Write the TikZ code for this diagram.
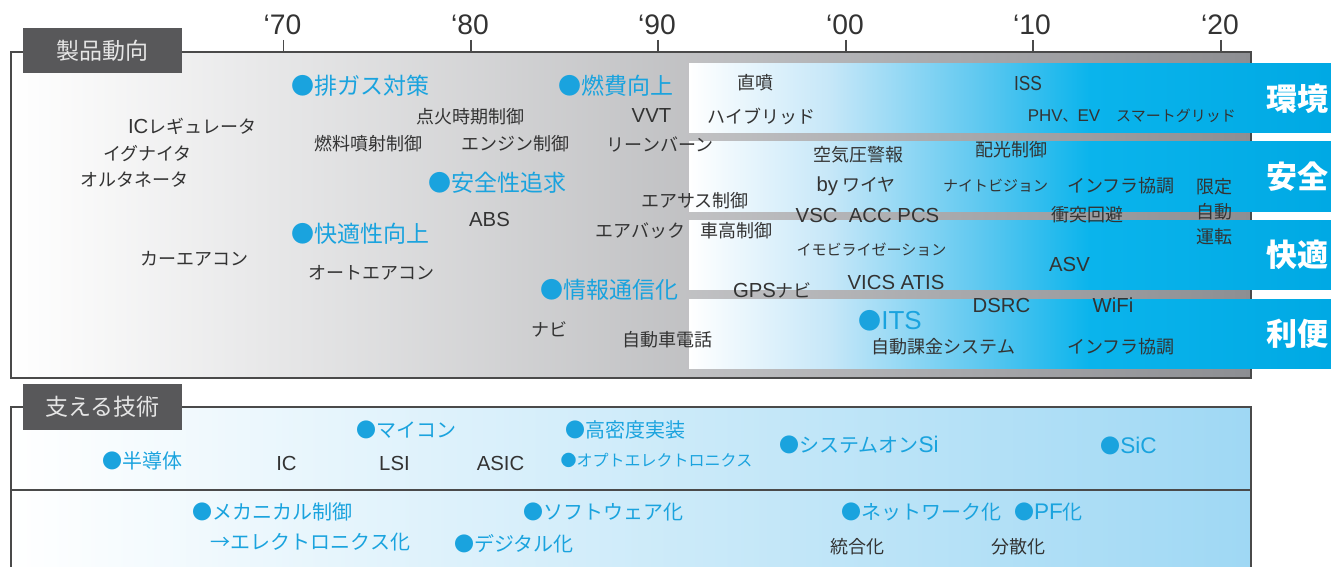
\documentclass[tikz,border=0pt]{standalone}
\usepackage{fontspec}
\setmainfont{Noto Sans CJK JP}
\newfontfamily\lat[Scale=1.13]{Liberation Sans}
\definecolor{txt}{HTML}{333333}
\definecolor{bl}{HTML}{1AA3DE}
\definecolor{tabc}{HTML}{58585A}
\definecolor{frame}{HTML}{4A4A4A}
\definecolor{gr}{HTML}{8D8E92}
\definecolor{b1}{HTML}{C6E7F8}
\definecolor{b2}{HTML}{5EC8F0}
\definecolor{b3}{HTML}{0AB4EC}
\definecolor{b4}{HTML}{00A9E4}
\definecolor{lb}{HTML}{9FD8F4}
\begin{document}
\begin{tikzpicture}[x=1pt,y=-1pt,
  blk/.style={inner sep=0pt,text=txt,font=\fontsize{18}{18}\selectfont},
  blkL/.style={inner sep=0pt,text=txt,font=\fontsize{18}{18}\selectfont\lat},
  sml/.style={inner sep=0pt,text=txt,font=\fontsize{15}{15}\selectfont},
  hd/.style={inner sep=0pt,text=bl,font=\fontsize{23}{23}\selectfont},
  sub/.style={inner sep=0pt,text=bl,font=\fontsize{20}{20}\selectfont},
  cat/.style={inner sep=0pt,text=white,font=\bfseries\fontsize{31}{31}\selectfont},
  yr/.style={inner sep=0pt,text=txt,font=\fontsize{25}{25}\selectfont\lat},
  tabbox/.style={fill=tabc,inner sep=0pt,text=white!90!black,font=\fontsize{23}{23}\selectfont},
  frm/.style={draw=frame,line width=1.3pt}]
\useasboundingbox (0,0) rectangle (1331,567);
% ---------- top panel ----------
\fill[left color=white,right color=gr] (11,52) rectangle (1251,378);
\draw[frm] (11,52) rectangle (1251,378);
% ticks and years
\foreach \xx/\lab [count=\i] in {283.5/‘70,471/‘80,658/‘90,846/‘00,1033/‘10,1221/‘20}{
  \draw[frame,line width=1.2pt] (\xx,40) -- (\xx,52);
  \node[yr] (yr\i) at (\xx-1,25) {\lab};
}
% bands
\foreach \ya/\yb in {64/133,142/211,220/289,299/368}{
  \fill[left color=white,right color=b1] (689,\ya) rectangle (830.5,\yb);
  \fill[left color=b1,right color=b2] (830,\ya) rectangle (980.5,\yb);
  \fill[left color=b2,right color=b3] (980,\ya) rectangle (1090.5,\yb);
  \fill[left color=b3,right color=b4] (1090,\ya) rectangle (1331,\yb);
}
% tab
\node[tabbox,minimum width=159pt,minimum height=45pt] (tab1) at (102.5,50.5) {製品動向};
% categories
\node[cat] (c1) at (1297,98.5) {環境};
\node[cat] (c2) at (1297,176.5) {安全};
\node[cat] (c3) at (1297,254.5) {快適};
\node[cat] (c4) at (1297,333.5) {利便};
% blue headings
\node[hd] (h1) at (360,86) {●排ガス対策};
\node[hd] (h2) at (615.5,86) {●燃費向上};
\node[hd] (h3) at (497,183) {●安全性追求};
\node[hd] (h4) at (360,234) {●快適性向上};
\node[hd] (h5) at (609.5,290) {●情報通信化};
\node[hd] (h6) at (890,321) {●{\lat ITS}};
% black items
\node[blk] (t1) at (192,126) {{\lat IC}レギュレータ};
\node[blk] (t2) at (147.5,154) {イグナイタ};
\node[blk] (t3) at (134,180) {オルタネータ};
\node[blk] (t4) at (194.5,259) {カーエアコン};
\node[blk] (t5) at (368,144) {燃料噴射制御};
\node[blk] (t6) at (470,117) {点火時期制御};
\node[blk] (t7) at (515.5,144) {エンジン制御};
\node[blkL] (t8) at (489.5,219) {ABS};
\node[blk] (t9) at (371,273) {オートエアコン};
\node[blkL] (t10) at (651.5,116) {VVT};
\node[blk] (t11) at (660,144) {リーンバーン};
\node[blk] (t12) at (695,201) {エアサス制御};
\node[blk] (t13) at (640.5,231) {エアバック};
\node[blk] (t14) at (736,231) {車高制御};
\node[blk] (t15) at (549.5,329) {ナビ};
\node[blk] (t16) at (667.5,340) {自動車電話};
\node[blk] (t17) at (755,83) {直噴};
\node[blk] (t18) at (761.5,116) {ハイブリッド};
\node[blk] (t19) at (858,155) {空気圧警報};
\node[blk] (t20) at (856,186) {{\lat by} ワイヤ};
\node[blkL] (t21) at (867.5,215) {VSC\ \ ACC PCS};
\node[sml] (t22) at (871.5,250) {イモビライゼーション};
\node[blkL] (t23) at (896,282) {VICS ATIS};
\node[blk] (t24) at (772.5,290) {{\lat GPS}ナビ};
\node[blk] (t25) at (943.5,347) {自動課金システム};
\node[blkL] (t26) at (1001.5,305) {DSRC};
\node[blkL] (t27) at (1113,305) {WiFi};
\node[blk] (t28) at (1121,347) {インフラ協調};
\node[blk] (t29) at (1011,150) {配光制御};
\node[sml] (t30) at (995.5,186) {ナイトビジョン};
\node[blk] (t31) at (1121,186) {インフラ協調};
\node[blk] (t32) at (1214,187) {限定};
\node[blk] (t33) at (1214,212) {自動};
\node[blk] (t34) at (1214,237) {運転};
\node[blk] (t35) at (1087,215) {衝突回避};
\node[blkL] (t36) at (1069.5,264) {ASV};
\node[blkL,xscale=0.85] (t37) at (1028,83) {ISS};
\node[sml] (t38) at (1064,116) {{\lat PHV}、{\lat EV}};
\node[sml] (t39) at (1176,116) {スマートグリッド};
% ---------- bottom panel ----------
\fill[left color=white,right color=lb] (11,407) rectangle (1251,600);
\draw[frm] (11,600) -- (11,407) -- (1251,407) -- (1251,600);
\draw[frm] (11,490) -- (1251,490);
\node[tabbox,minimum width=159pt,minimum height=46pt] (tab2) at (102.5,407) {支える技術};
\node[sub] (s1) at (142,461) {●半導体};
\node[blkL] (s2) at (286.5,463) {IC};
\node[blkL] (s3) at (394.5,463) {LSI};
\node[blkL] (s4) at (500.5,463) {ASIC};
\node[sub] (s5) at (406.5,430) {●マイコン};
\node[sub] (s6) at (625,430) {●高密度実装};
\node[sub,font=\fontsize{16}{16}\selectfont] (s7) at (656.5,460) {●オプトエレクトロニクス};
\node[sub] (s8) at (859,445) {●システムオン{\lat Si}};
\node[sub] (s9) at (1128.5,446) {●{\lat SiC}};
\node[sub] (s10) at (272.5,512) {●メカニカル制御};
\node[sub] (s11) at (310.5,542) {→エレクトロニクス化};
\node[sub] (s12) at (603,512) {●ソフトウェア化};
\node[sub] (s13) at (514,544) {●デジタル化};
\node[sub] (s14) at (921,512) {●ネットワーク化};
\node[sub] (s15) at (1048.5,512) {●{\lat PF}化};
\node[blk] (s16) at (857.5,547) {統合化};
\node[blk] (s17) at (1018,547) {分散化};
\end{tikzpicture}
\end{document}
